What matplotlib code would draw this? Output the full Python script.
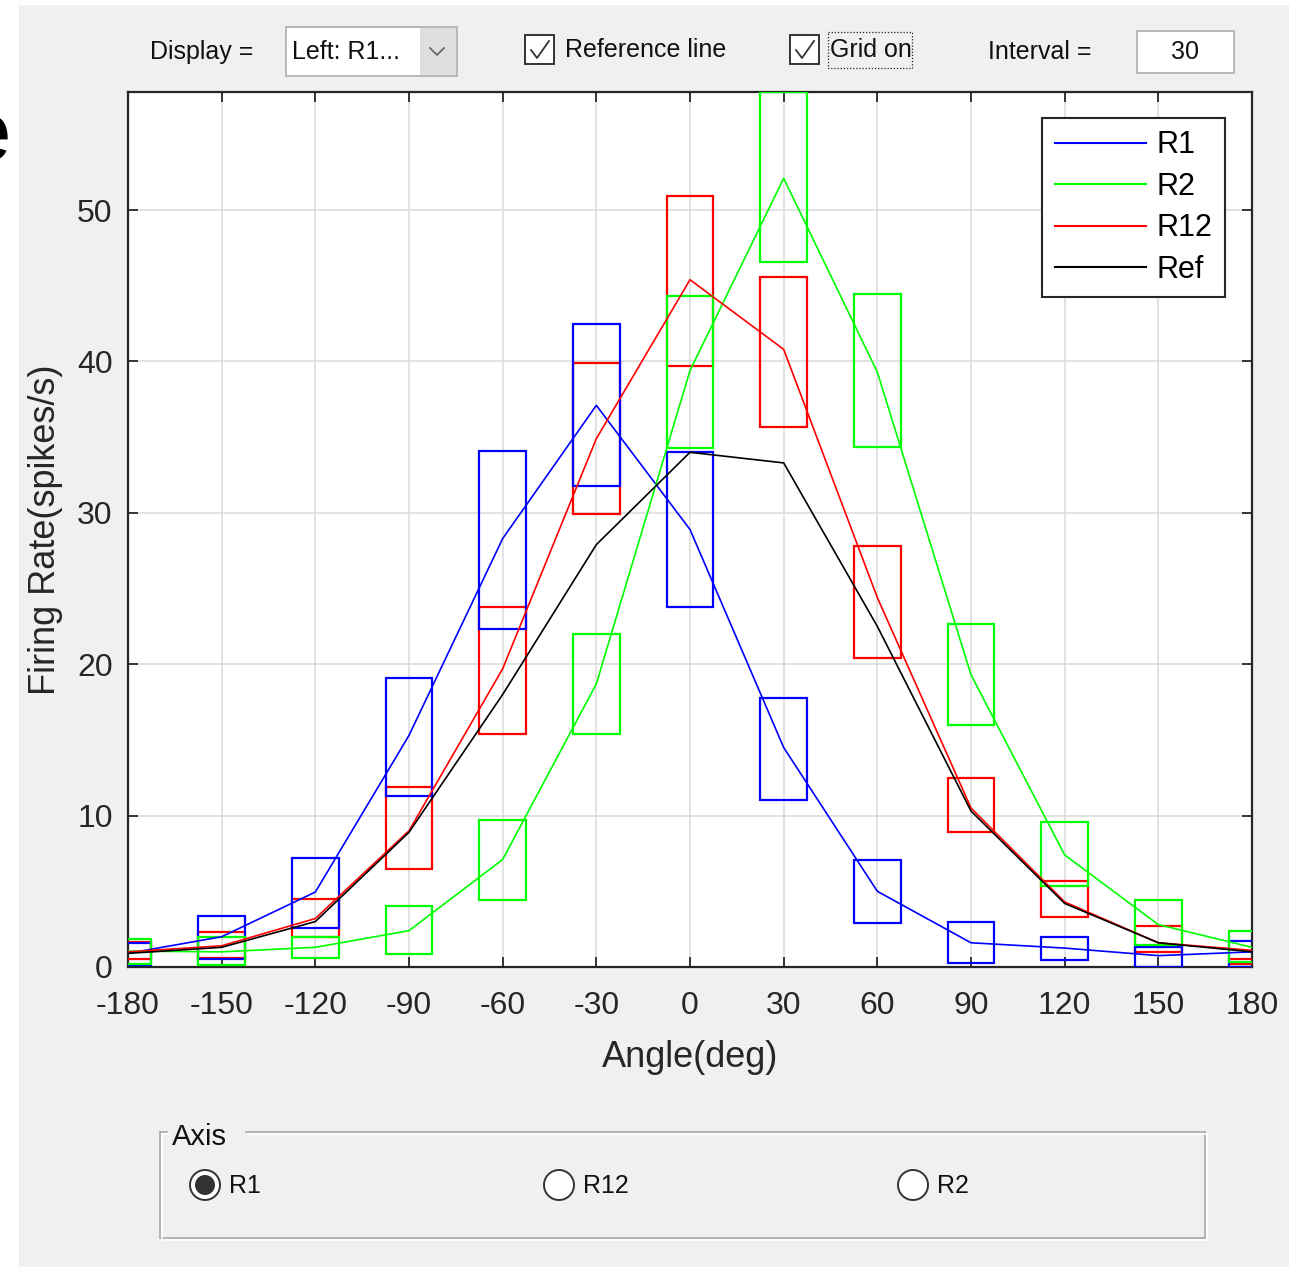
import matplotlib
matplotlib.use('Agg')
import matplotlib.pyplot as plt
from matplotlib.patches import Rectangle, Circle

plt.rcParams['font.family'] = ['Liberation Sans', 'DejaVu Sans']
plt.rcParams['axes.unicode_minus'] = False

# ---------------- data ----------------
angles = [-180, -150, -120, -90, -60, -30, 0, 30, 60, 90, 120, 150, 180]
xticks = [-180, -150, -120, -90, -60, -30, 0, 30, 60, 90, 120, 150, 180]
yticks = [0, 10, 20, 30, 40, 50]

r1_line = [0.9, 2.0, 4.95, 15.3, 28.3, 37.1, 28.9, 14.5, 5.0, 1.6, 1.25, 0.75, 1.0]
r1_lo   = [0.1, 0.53, 2.58, 11.3, 22.3, 31.8, 23.8, 11.0, 2.9, 0.26, 0.46, 0.0, 0.0]
r1_hi   = [1.6, 3.37, 7.2, 19.1, 34.1, 42.5, 34.0, 17.8, 7.07, 2.97, 1.98, 1.32, 1.72]

r2_line = [1.05, 1.0, 1.3, 2.4, 7.1, 18.7, 39.4, 52.1, 39.3, 19.3, 7.4, 2.8, 1.3]
r2_lo   = [0.2, 0.13, 0.6, 0.86, 4.4, 15.4, 34.3, 46.6, 34.35, 16.0, 5.35, 1.45, 0.33]
r2_hi   = [1.85, 2.0, 2.0, 4.0, 9.7, 22.0, 44.3, 57.8, 44.45, 22.65, 9.58, 4.43, 2.38]

r12_line = [1.0, 1.4, 3.2, 9.0, 19.7, 34.9, 45.4, 40.8, 24.4, 10.5, 4.3, 1.6, 1.1]
r12_lo   = [0.53, 0.6, 2.0, 6.5, 15.4, 29.9, 39.7, 35.7, 20.4, 8.9, 3.3, 1.0, 0.2]
r12_hi   = [1.65, 2.3, 4.5, 11.9, 23.8, 39.9, 50.9, 45.6, 27.8, 12.5, 5.7, 2.7, 0.55]

ref_line = [0.9, 1.3, 3.0, 8.9, 18.0, 27.9, 34.0, 33.3, 22.5, 10.3, 4.2, 1.6, 1.0]

series_labels = ['R1', 'R2', 'R12', 'Ref']
radio_labels = ['R1', 'R12', 'R2']

# ---------------- figure ----------------
W, H = 1289, 1267
fig = plt.figure(figsize=(W / 100, H / 100), dpi=100)
fig.patch.set_facecolor('white')

bg = fig.add_axes([0, 0, 1, 1], zorder=0)
bg.set_xlim(0, W)
bg.set_ylim(H, 0)
bg.axis('off')

GUI = '#f0f0f0'
bg.add_patch(Rectangle((19, 5), W - 19, H - 5, facecolor=GUI, edgecolor='none'))
# cropped glyph at the far left edge (cut off in the source screenshot too)
bg.text(-35, 160, 'e', fontsize=60, color='black',
        ha='left', va='baseline', clip_on=False)

ui_fs = 18
# Display dropdown
bg.text(150, 52, 'Display =', fontsize=ui_fs, ha='left', va='center', color='#111111')
bg.add_patch(Rectangle((286, 27), 171, 49, facecolor='white', edgecolor='#adadad', lw=1.2))
bg.add_patch(Rectangle((420, 28), 36, 47, facecolor='#dedede', edgecolor='none'))
bg.plot([430, 437, 444], [48, 55, 48], color='#606060', lw=1.2)
bg.text(292, 52, 'Left: R1...', fontsize=ui_fs, ha='left', va='center', color='#111111')

def checkbox(x0, y0, label, tx):
    bg.add_patch(Rectangle((x0, y0), 29, 29, facecolor='white', edgecolor='#333333', lw=1.4))
    bg.plot([x0 + 6, x0 + 12, x0 + 24], [y0 + 15, y0 + 23, y0 + 6], color='#333333', lw=1.3)
    bg.text(tx, y0 + 15, label, fontsize=ui_fs, ha='left', va='center', color='#111111')

checkbox(525, 35, 'Reference line', 565)
checkbox(790, 35, 'Grid on', 830)
bg.add_patch(Rectangle((828, 32), 84, 36, facecolor='none', edgecolor='#222222', lw=0.9,
                       linestyle=(0, (1, 1.5))))
bg.text(988, 52, 'Interval =', fontsize=ui_fs, ha='left', va='center', color='#111111')
bg.add_patch(Rectangle((1137, 31), 97, 42, facecolor='white', edgecolor='#adadad', lw=1.2))
bg.text(1185, 52, '30', fontsize=ui_fs, ha='center', va='center', color='#111111')

# Axis panel (etched frame)
fx0, fy0, fx1, fy1 = 160, 1132, 1205, 1238
for off, col in [(0, '#a8a8a8'), (1.5, 'white')]:
    bg.plot([fx0 + off, fx0 + off], [fy0 + off, fy1 + off], color=col, lw=1.2)
    bg.plot([fx0 + off, fx1 + off], [fy1 + off, fy1 + off], color=col, lw=1.2)
    bg.plot([fx1 + off, fx1 + off], [fy0 + off, fy1 + off], color=col, lw=1.2)
    bg.plot([fx0 + off, 167 + off], [fy0 + off, fy0 + off], color=col, lw=1.2)
    bg.plot([246 + off, fx1 + off], [fy0 + off, fy0 + off], color=col, lw=1.2)
bg.text(172, 1137, 'Axis', fontsize=21, ha='left', va='center', color='#111111')

radio_x = [205, 559, 913]
for i, (rx, lab) in enumerate(zip(radio_x, radio_labels)):
    bg.add_patch(Circle((rx, 1185), 15, facecolor='white', edgecolor='#333333', lw=1.4))
    if i == 0:
        bg.add_patch(Circle((rx, 1185), 10, facecolor='#333333', edgecolor='none'))
    bg.text(rx + 24, 1186, lab, fontsize=ui_fs, ha='left', va='center', color='#111111')

# ---------------- main axes ----------------
ax = fig.add_axes([128 / W, 1 - 967 / H, (1252 - 128) / W, (967 - 92) / H], zorder=2)
ax.set_facecolor('white')
ax.set_xlim(-180, 180)
ax.set_ylim(0, 57.8)
ax.set_xticks(xticks)
ax.set_yticks(yticks)
ax.grid(True, color='#dadada', lw=1.1)
ax.set_axisbelow(True)
AXC = '#262626'
for sp in ax.spines.values():
    sp.set_color(AXC)
    sp.set_linewidth(1.6)
ax.tick_params(direction='in', length=7.5, width=1.3, colors=AXC, labelsize=23,
               top=True, right=True)
ax.tick_params(axis='x', pad=17)
ax.tick_params(axis='y', pad=11)
ax.set_xlabel('Angle(deg)', fontsize=26, color=AXC, labelpad=14)
ax.set_ylabel('Firing Rate(spikes/s)', fontsize=26, color=AXC, labelpad=10)

BW = 15
box_sets = [(r12_lo, r12_hi, '#ff0000', 3), (r1_lo, r1_hi, '#0000ff', 4), (r2_lo, r2_hi, '#00ff00', 5)]
for lo, hi, col, z in box_sets:
    for a, l, h in zip(angles, lo, hi):
        ax.add_patch(Rectangle((a - BW / 2, l), BW, h - l, fill=False, edgecolor=col,
                               lw=1.6, zorder=z))

lines = []
for vals, col, lab in zip([r1_line, r2_line, r12_line, ref_line],
                          ['#0000ff', '#00ff00', '#ff0000', '#000000'], series_labels):
    ln, = ax.plot(angles, vals, color=col, lw=1.2, label=lab, zorder=6)
    lines.append(ln)

leg = ax.legend(handles=lines, loc='upper right',
                bbox_to_anchor=((1225 - 128) / 1124, (967 - 118) / 875),
                borderaxespad=0, fontsize=22, handlelength=3.0, handletextpad=0.35,
                labelspacing=0.38, frameon=True, fancybox=False, borderpad=0.4,
                framealpha=1)
leg.get_frame().set_edgecolor(AXC)
leg.get_frame().set_linewidth(1.5)
for lh in leg.get_lines():
    lh.set_linewidth(1.5)
leg.set_zorder(10)

fig.savefig('out.png', dpi=100, facecolor=fig.get_facecolor())
